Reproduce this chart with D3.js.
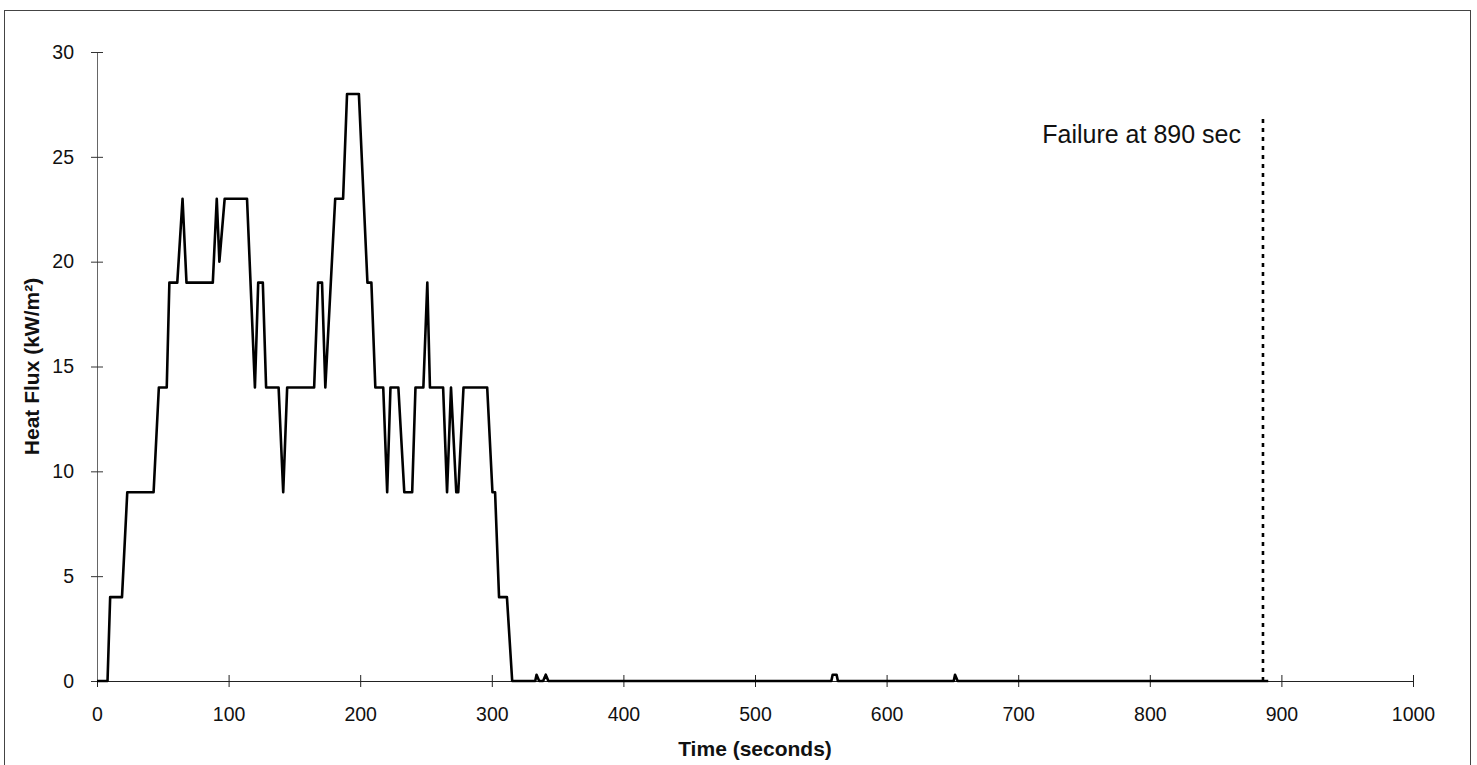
<!DOCTYPE html>
<html>
<head>
<meta charset="utf-8">
<script src="https://cdn.jsdelivr.net/npm/d3@7"></script>
<style>
	html, body { margin: 0; padding: 0; background: #fff; }
	svg { display: block; font-family: 'Liberation Sans', Arial, sans-serif; }
</style>
</head>
<body>
<div id="chart"></div>
<script>

const times = [0, 8, 10, 19, 23, 43, 47, 53, 55, 61, 65, 68, 88, 91, 93, 97, 114, 120, 122.5, 126, 128.5,
	138, 141.5, 144.5, 165, 168, 171, 173.5, 181, 187, 190, 199, 205.5, 208.5, 211.5, 217.5, 220.5, 223,
	229, 233.5, 239.5, 242, 248, 251, 253, 263, 266, 269, 273, 274.5, 278.5, 296.5, 300.5, 302.5, 305.5,
	311.5, 315.5, 333, 334, 336, 339, 341, 343, 558, 559, 562, 563, 651, 652, 654, 890];
const flux = [0, 0, 4, 4, 9, 9, 14, 14, 19, 19, 23, 19, 19, 23, 20, 23, 23, 14, 19, 19, 14,
	14, 9, 14, 14, 19, 19, 14, 23, 23, 28, 28, 19, 19, 14, 14, 9, 14,
	14, 9, 9, 14, 14, 19, 14, 14, 9, 14, 9, 9, 14, 14, 9, 9, 4,
	4, 0, 0, 0.3, 0, 0, 0.3, 0, 0, 0.3, 0.3, 0, 0, 0.3, 0, 0];

const xTicks = [0, 100, 200, 300, 400, 500, 600, 700, 800, 900, 1000];
const yTicks = [0, 5, 10, 15, 20, 25, 30];

const failureAt = [886];
const failureTop = 27;
const failureLabel = 'Failure at 890 sec';
const xTitle = 'Time (seconds)';
const yTitle = 'Heat Flux (kW/m\u00b2)';

const width = 1477;
const height = 765;
const margin = {top: 52, right: 64, bottom: 84, left: 97};

const svg = d3.select('#chart')
	.append('svg')
	.attr('width', width)
	.attr('height', height);

svg.append('rect')
	.attr('width', width)
	.attr('height', height)
	.attr('fill', '#fff');

// outer frame of the chart
svg.append('rect')
	.attr('x', 4.5)
	.attr('y', 10.5)
	.attr('width', 1466)
	.attr('height', 760)
	.attr('fill', 'none')
	.attr('stroke', '#444')
	.attr('stroke-width', 1);

const x = d3.scaleLinear()
	.domain([0, 1000])
	.range([margin.left, width - margin.right]);

const y = d3.scaleLinear()
	.domain([0, 30])
	.range([height - margin.bottom, margin.top]);

const xAxis = svg.append('g')
	.attr('transform', `translate(0,${y(0)})`)
	.call(d3.axisBottom(x).tickValues(xTicks).tickFormat(d3.format('d'))
		.tickSize(6).tickSizeOuter(0).tickPadding(20));

xAxis.selectAll('.tick line').attr('y1', -6).attr('stroke', '#222');
xAxis.select('.domain').attr('stroke', '#222');
xAxis.selectAll('text')
	.attr('font-size', 19.5)
	.attr('fill', '#111');

const yAxis = svg.append('g')
	.attr('transform', `translate(${x(0)},0)`)
	.call(d3.axisLeft(y).tickValues(yTicks).tickFormat(d3.format('d'))
		.tickSize(6).tickSizeOuter(0).tickPadding(17));

yAxis.selectAll('.tick line').attr('x1', 6).attr('x2', -6).attr('stroke', '#333');
yAxis.select('.domain').attr('stroke', '#666');
yAxis.selectAll('text')
	.attr('font-size', 19.5)
	.attr('fill', '#111');

const line = d3.line()
	.x((d, i) => x(times[i]))
	.y(d => y(d));

svg.append('path')
	.datum(flux)
	.attr('d', line)
	.attr('fill', 'none')
	.attr('stroke', '#000')
	.attr('stroke-width', 2.6)
	.attr('stroke-linejoin', 'round');

svg.selectAll('.failure')
	.data(failureAt)
	.enter()
	.append('line')
	.attr('class', 'failure')
	.attr('x1', d => x(d))
	.attr('x2', d => x(d))
	.attr('y1', y(0))
	.attr('y2', y(failureTop))
	.attr('stroke', '#000')
	.attr('stroke-width', 2.6)
	.attr('stroke-dasharray', '4,5');

svg.append('text')
	.attr('x', x(failureAt[0]) - 22)
	.attr('y', 143)
	.attr('text-anchor', 'end')
	.attr('font-size', 25)
	.attr('fill', '#111')
	.text(failureLabel);

svg.append('text')
	.attr('x', x(500))
	.attr('y', 756)
	.attr('text-anchor', 'middle')
	.attr('font-size', 21)
	.attr('font-weight', 'bold')
	.attr('fill', '#111')
	.text(xTitle);

svg.append('text')
	.attr('transform', `translate(39,${y(15)}) rotate(-90)`)
	.attr('text-anchor', 'middle')
	.attr('font-size', 21)
	.attr('font-weight', 'bold')
	.attr('fill', '#111')
	.text(yTitle);

</script>
</body>
</html>
